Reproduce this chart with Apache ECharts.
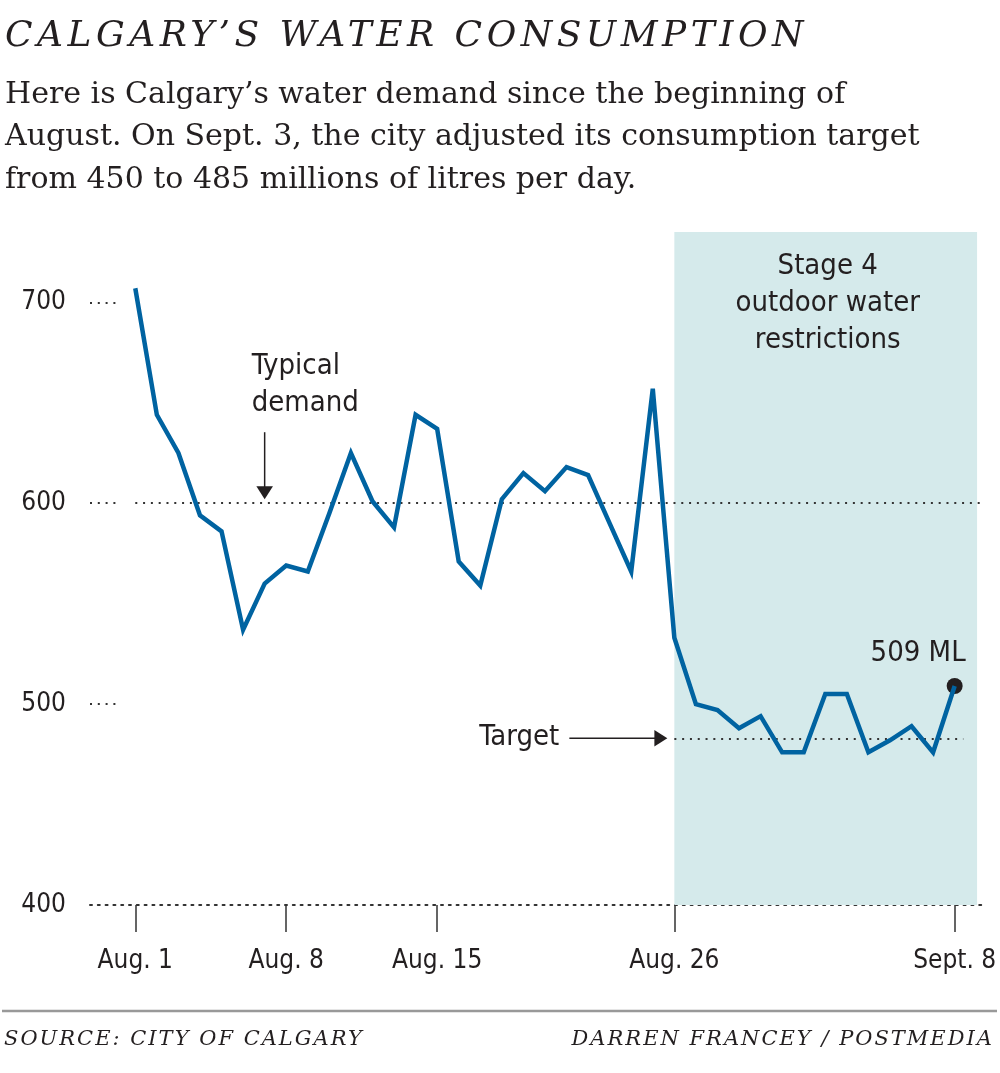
<!DOCTYPE html>
<html><head><meta charset="utf-8">
<script src="https://cdn.jsdelivr.net/npm/echarts@6/dist/echarts.min.js"></script>
<style>html,body{margin:0;padding:0;background:#fff}#main{width:1000px;height:1073px}</style>
</head><body><div id="main"></div>
<script>
// ---- data ----
const dates = ['Aug. 1','Aug. 2','Aug. 3','Aug. 4','Aug. 5','Aug. 6','Aug. 7','Aug. 8','Aug. 9','Aug. 10',
  'Aug. 11','Aug. 12','Aug. 13','Aug. 14','Aug. 15','Aug. 16','Aug. 17','Aug. 18','Aug. 19','Aug. 20',
  'Aug. 21','Aug. 22','Aug. 23','Aug. 24','Aug. 25','Aug. 26','Aug. 27','Aug. 28','Aug. 29','Aug. 30',
  'Aug. 31','Sept. 1','Sept. 2','Sept. 3','Sept. 4','Sept. 5','Sept. 6','Sept. 7','Sept. 8'];
const demand = [707,644,625,594,586,537,560,569,566,595,
  625,601,588,644,637,571,559,602,615,606,
  618,614,590,566,657,533,500,497,488,494,
  476,476,505,505,476,482,489,476,509];
const tickDates = ['Aug. 1','Aug. 8','Aug. 15','Aug. 26','Sept. 8'];
const yTicks = [400,500,600,700];
const typicalDemand = 600;
const target = 483;
const stageStart = 'Aug. 26';

// letter spacing for the italic headings (canvas feature)
const _fill = CanvasRenderingContext2D.prototype.fillText;
CanvasRenderingContext2D.prototype.fillText = function () {
  const f = this.font || '';
  if ('letterSpacing' in this) {
    if (f.indexOf('italic') >= 0) this.letterSpacing = f.indexOf('36px') >= 0 ? '4.5px' : '2px';
    else this.letterSpacing = '0px';
  }
  return _fill.apply(this, arguments);
};

const idx = d => dates.indexOf(d);
const SANS = "'DejaVu Sans Condensed','Roboto Condensed',Roboto,sans-serif";
const SERIF = "'DejaVu Serif',serif";
const INK = '#231f20';
const DOT = [2, 5.8];
const BLUE = '#0063a1';
const last = demand.length - 1;

const chart = echarts.init(document.getElementById('main'), null, {renderer: 'canvas'});
const option = {
  animation: false,
  grid: {left: 90, right: 13, top: 232, bottom: 168},
  xAxis: {
    type: 'value', min: -2.1, max: 39.5,
    axisLine: {show: true, onZero: false, lineStyle: {color: '#333', width: 2, type: DOT}},
    axisTick: {show: true, customValues: tickDates.map(idx), length: 27, lineStyle: {color: '#333', width: 1.5}},
    axisLabel: {customValues: tickDates.map(idx), formatter: v => dates[v], margin: 43,
      color: INK, fontFamily: SANS, fontSize: 26},
    splitLine: {show: false}
  },
  yAxis: {
    type: 'value', min: 400, max: 735,
    axisLine: {show: false, onZero: false},
    axisTick: {show: true, inside: true, length: 26, customValues: yTicks.slice(1),
      lineStyle: {color: '#333', width: 2, type: DOT}},
    axisLabel: {customValues: yTicks, margin: 24, color: INK, fontFamily: SANS, fontSize: 26},
    splitLine: {show: false}
  },
  series: [
    {type: 'line', name: 'Stage 4', data: [], z: 1, silent: true,
      markArea: {silent: true, itemStyle: {color: '#d5eaeb'},
        data: [[{xAxis: idx(stageStart), yAxis: 735}, {xAxis: 39.04, yAxis: 400}]]}},
    {type: 'line', name: 'Reference lines', data: [], z: 2, silent: true,
      markLine: {silent: true, symbol: 'none', label: {show: false},
        lineStyle: {color: '#333', width: 2, type: DOT},
        data: [
          [{coord: [0, typicalDemand]}, {coord: [39.27, typicalDemand]}],
          [{coord: [idx(stageStart), target]}, {coord: [38.4, target]}]
        ]}},
    {type: 'line', name: 'Demand', z: 5, showSymbol: false, silent: true,
      data: demand.map((v, i) => [i, v]),
      lineStyle: {color: BLUE, width: 4.5, join: 'miter', miterLimit: 4},
      itemStyle: {color: BLUE},
      markPoint: {silent: true, symbol: 'circle', symbolSize: 16,
        itemStyle: {color: INK},
        label: {show: true, formatter: demand[last] + ' ML', position: [19, -25], align: 'right',
          verticalAlign: 'middle', color: INK, fontFamily: SANS, fontSize: 29},
        data: [{coord: [last, demand[last]]}]}}
  ]
};
chart.setOption(option);

const P = (d, v) => chart.convertToPixel({gridIndex: 0}, [d, v]);
const tp = P(idx('Aug. 7'), typicalDemand);
const ax = tp[0], tipY = tp[1] - 4;
const tg = P(idx(stageStart), target);
const tipX = tg[0] - 7, ty = tg[1];
const sa = P(idx(stageStart), 735), sb = P(39.04, 735);
const stageCx = (sa[0] + sb[0]) / 2 + 2;
const Z = 100;

chart.setOption({graphic: [
  {type: 'text', z: Z, x: 5, y: 37, style: {text: 'CALGARY’S WATER CONSUMPTION', fontFamily: SERIF, fontStyle: 'italic',
    fontSize: 36, fill: INK, verticalAlign: 'middle'}},
  {type: 'text', z: Z, x: 5, y: 73.75, style: {text: 'Here is Calgary’s water demand since the beginning of\nAugust. On Sept. 3, the city adjusted its consumption target\nfrom 450 to 485 millions of litres per day.',
    fontFamily: SERIF, fontSize: 30, lineHeight: 42.5, fill: INK, verticalAlign: 'top'}},
  // typical demand annotation
  {type: 'text', z: Z, x: ax - 13, y: 347.5, style: {text: 'Typical\ndemand', fontFamily: SANS, fontSize: 29, lineHeight: 37,
    fill: INK, verticalAlign: 'top'}},
  {type: 'line', z: Z, shape: {x1: ax, y1: tipY - 67, x2: ax, y2: tipY - 12}, style: {stroke: INK, lineWidth: 1.5}},
  {type: 'polygon', z: Z, shape: {points: [[ax - 8.3, tipY - 13], [ax + 8.3, tipY - 13], [ax, tipY]]}, style: {fill: INK}},
  // target annotation
  {type: 'text', z: Z, x: tipX - 108, y: ty - 1, style: {text: 'Target', fontFamily: SANS, fontSize: 29, fill: INK,
    align: 'right', verticalAlign: 'middle'}},
  {type: 'line', z: Z, shape: {x1: tipX - 98, y1: ty, x2: tipX - 12, y2: ty}, style: {stroke: INK, lineWidth: 1.5}},
  {type: 'polygon', z: Z, shape: {points: [[tipX - 13, ty - 8.3], [tipX - 13, ty + 8.3], [tipX, ty]]}, style: {fill: INK}},
  // stage 4 annotation
  {type: 'text', z: Z, x: stageCx, y: 248.3, style: {text: 'Stage 4\noutdoor water\nrestrictions', fontFamily: SANS, fontSize: 29,
    lineHeight: 36.7, fill: INK, align: 'center', verticalAlign: 'top'}},
  // footer
  {type: 'line', z: Z, shape: {x1: 2, y1: 1011, x2: 997, y2: 1011}, style: {stroke: '#999', lineWidth: 2.5}},
  {type: 'text', z: Z, x: 4, y: 1040, style: {text: 'SOURCE: CITY OF CALGARY', fontFamily: SERIF, fontStyle: 'italic', fontSize: 21,
    fill: INK, verticalAlign: 'middle'}},
  {type: 'text', z: Z, x: 994, y: 1040, style: {text: 'DARREN FRANCEY / POSTMEDIA', fontFamily: SERIF, fontStyle: 'italic', fontSize: 21,
    fill: INK, align: 'right', verticalAlign: 'middle'}}
]});
</script>
</body></html>
